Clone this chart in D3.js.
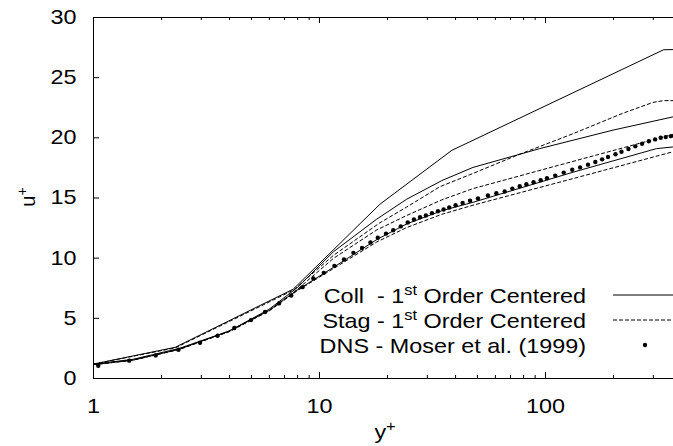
<!DOCTYPE html>
<html>
<head>
<meta charset="utf-8">
<script src="https://cdn.jsdelivr.net/npm/d3@7"></script>
<style>
  body { margin: 0; background: #fff; }
  svg { display: block; font-family: "Liberation Sans", Arial, sans-serif; }
  .curve { fill: none; stroke: #000; stroke-width: 1; }
  .dashed { stroke-dasharray: 4,2; }
</style>
</head>
<body>
<script>
// tick values
const xTicks = [1, 10, 100]
const yTicks = [0, 5, 10, 15, 20, 25, 30]

// DNS - Moser et al. (1999)
const dnsYplus = [1.055, 1.447, 1.894, 2.39, 2.975, 3.56, 4.22, 5.0, 5.77, 6.65, 7.54, 8.45, 9.44, 10.5, 11.7, 12.9, 14.2, 15.5, 16.9, 18.2, 19.8, 21.3, 23.0, 24.7, 26.3, 28.0, 29.7, 31.6, 33.6, 35.6, 37.7, 40.2, 43.2, 46.6, 50.5, 55.9, 60.9, 66.3, 71.7, 77.3, 82.7, 89, 95.7, 102, 111, 121, 132, 143, 155, 167, 179, 190, 205, 218, 234, 251, 269, 288, 307, 325, 342, 361]
const dnsU = [1.02, 1.44, 1.88, 2.35, 2.93, 3.51, 4.15, 4.81, 5.48, 6.2, 6.86, 7.55, 8.27, 8.74, 9.32, 9.85, 10.4, 10.8, 11.26, 11.65, 12.0, 12.28, 12.6, 12.92, 13.17, 13.36, 13.5, 13.7, 13.86, 14.0, 14.17, 14.35, 14.55, 14.73, 14.92, 15.16, 15.35, 15.5, 15.74, 15.93, 16.1, 16.27, 16.43, 16.6, 16.82, 17.07, 17.3, 17.5, 17.73, 17.95, 18.17, 18.37, 18.6, 18.8, 19.03, 19.25, 19.47, 19.67, 19.83, 19.97, 20.02, 20.1]

// Coll - 1st order centered (solid), [y+, u+]
const collA = [[1, 1.15], [2.31, 2.55], [7.7, 7.39], [18.6, 14.44], [38.7, 18.92], [335, 27.28], [395, 27.3]]
const collB = [[1, 1.15], [1.5, 1.55], [2.4, 2.45], [4, 3.9], [6, 5.7], [8, 7.5], [11.6, 10.5], [18, 13.2], [24.4, 14.85], [34.9, 16.4], [48, 17.5], [94.7, 19.06], [200, 20.6], [368, 21.7], [395, 21.75]]
const collC = [[1, 1.1], [1.5, 1.48], [2.4, 2.38], [4, 3.9], [6, 5.6], [8, 7.3], [11.6, 9.2], [18, 11.5], [24.4, 12.8], [34.9, 13.9], [48, 14.6], [133, 17.1], [311, 19.06], [368, 19.2], [395, 19.22]]

// Stag - 1st order centered (dashed)
const stagA = [[1, 1.15], [2.31, 2.5], [7.7, 7.3], [11.6, 10.2], [18.6, 12.9], [24.4, 14.2], [34.3, 15.9], [48, 17.0], [75, 18.5], [133, 20.3], [221, 22.0], [300, 22.9], [335, 23.05], [395, 23.05]]
const stagB = [[1, 1.15], [1.5, 1.5], [2.4, 2.4], [4, 3.85], [6, 5.6], [8, 7.35], [11.6, 9.95], [18, 12.3], [24.4, 13.5], [34.9, 14.8], [48, 15.74], [133, 18.0], [368, 20.25], [395, 20.3]]
const stagC = [[1, 1.1], [1.5, 1.48], [2.4, 2.36], [4, 3.85], [6, 5.55], [8, 7.25], [11.6, 9.1], [18, 11.3], [24.4, 12.5], [34.9, 13.6], [48, 14.36], [133, 16.57], [368, 18.8], [395, 18.82]]

const legendLabels = ['Coll  - 1', 'Stag - 1', 'DNS - Moser et al. (1999)']

const width = 673
const height = 446
const stretch = 'scale(1.17,1)'

const svg = d3.select('body')
  .append('svg')
  .attr('width', width)
  .attr('height', height)

const x = d3.scaleLog().domain([1, 395]).range([93, 93 + 226 * Math.log10(395)])
const y = d3.scaleLinear().domain([0, 30]).range([378, 17])

const minorTicks = []
xTicks.forEach(d => {
  for (let k = 2; k <= 9; k++) if (d * k < 395) minorTicks.push(d * k)
})

// axes, gnuplot style: ticks inside
svg.append('g')
  .attr('class', 'axis x')
  .attr('transform', `translate(0,${y(0)})`)
  .call(d3.axisBottom(x).tickValues(xTicks).tickFormat(d3.format('d')).tickSize(-6).tickSizeOuter(0).tickPadding(21))

svg.append('g')
  .attr('transform', `translate(0,${y(0)})`)
  .call(d3.axisBottom(x).tickValues(minorTicks).tickFormat('').tickSize(-3).tickSizeOuter(0))
  .call(g => g.select('.domain').remove())

svg.append('g')
  .attr('transform', `translate(0,${y(30)})`)
  .call(d3.axisTop(x).tickValues(xTicks).tickFormat('').tickSize(-6).tickSizeOuter(0))

svg.append('g')
  .attr('transform', `translate(0,${y(30)})`)
  .call(d3.axisTop(x).tickValues(minorTicks).tickFormat('').tickSize(-3).tickSizeOuter(0))
  .call(g => g.select('.domain').remove())

svg.append('g')
  .attr('class', 'axis y')
  .attr('transform', `translate(${x(1)},0)`)
  .call(d3.axisLeft(y).tickValues(yTicks).tickSize(-6).tickSizeOuter(0).tickPadding(14))

svg.selectAll('.axis text')
  .attr('font-size', 20)
  .attr('font-family', '"Liberation Sans", Arial, sans-serif')
  .attr('fill', '#000')
  .attr('transform', stretch)

// axis titles
const xt = svg.append('text')
  .attr('text-anchor', 'middle')
  .attr('transform', `translate(385,439) ${stretch}`)
  .attr('font-size', 20)
xt.append('tspan').text('y')
xt.append('tspan').attr('font-size', 14).attr('dy', -8).text('+')

const yt = svg.append('text')
  .attr('text-anchor', 'middle')
  .attr('transform', `translate(35,197) rotate(-90)`)
  .attr('font-size', 20)
yt.append('tspan').text('u')
yt.append('tspan').attr('font-size', 14).attr('dy', -8).text('+')

// curves
const line = d3.line().x(d => x(d[0])).y(d => y(d[1]))
const plot = svg.append('g')

plot.selectAll('path.solid')
  .data([collA, collB, collC])
  .enter()
  .append('path')
  .attr('class', 'curve solid')
  .attr('d', line)

plot.selectAll('path.dashed')
  .data([stagA, stagB, stagC])
  .enter()
  .append('path')
  .attr('class', 'curve dashed')
  .attr('d', line)

plot.selectAll('circle')
  .data(dnsYplus)
  .enter()
  .append('circle')
  .attr('cx', d => x(d))
  .attr('cy', (d, i) => y(dnsU[i]))
  .attr('r', 2.2)
  .attr('fill', '#000')

// legend
const legend = svg.append('g')
legendLabels.forEach((label, i) => {
  const by = 303 + i * 25
  const t = legend.append('text')
    .attr('text-anchor', 'end')
    .attr('transform', `translate(586,${by}) ${stretch}`)
    .attr('font-size', 20)
    .style('white-space', 'pre')
  t.append('tspan').text(label)
  if (i < 2) {
    t.append('tspan').attr('font-size', 14).attr('dy', -8).text('st')
    t.append('tspan').attr('dy', 8).text(' Order Centered')
  }
  const cy = by - 8
  if (i === 2) {
    legend.append('circle').attr('cx', 645).attr('cy', cy).attr('r', 2.2).attr('fill', '#000')
  } else {
    legend.append('line')
      .attr('class', i === 1 ? 'curve dashed' : 'curve')
      .attr('x1', 613).attr('x2', 680)
      .attr('y1', cy).attr('y2', cy)
  }
})
</script>
</body>
</html>
